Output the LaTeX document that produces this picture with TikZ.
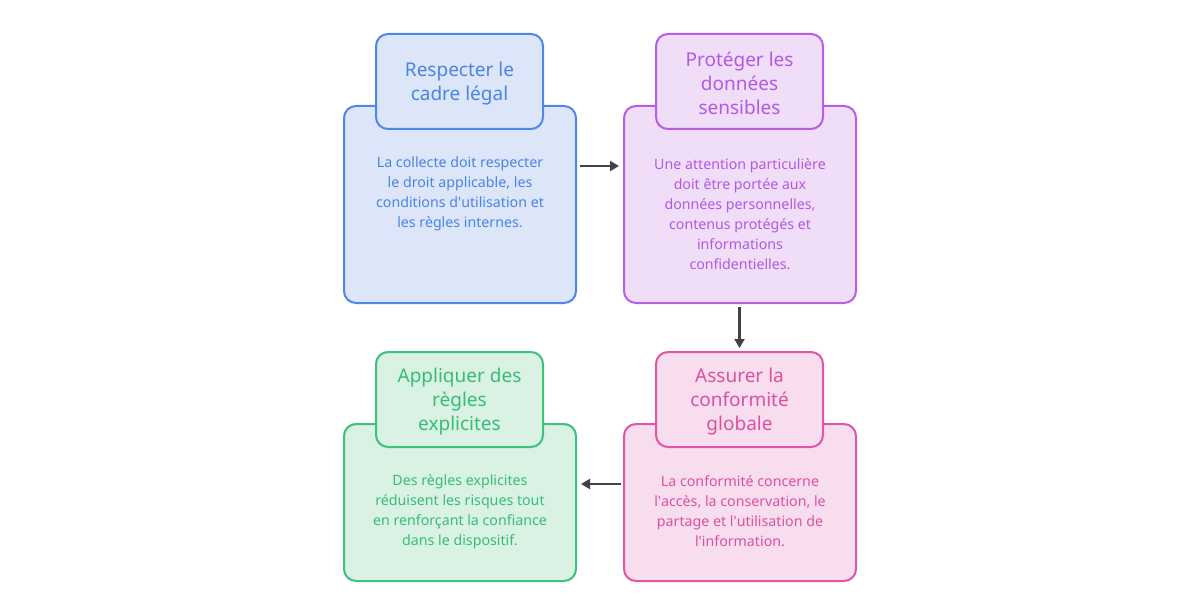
\documentclass[tikz,border=0pt]{standalone}
\usepackage{fontspec}
\setmainfont{Noto Sans}
\usetikzlibrary{arrows.meta}
\definecolor{bS}{HTML}{4F87E6}\definecolor{bF}{HTML}{DCE6F8}\definecolor{bT}{HTML}{4A84E4}
\definecolor{pS}{HTML}{B75DE6}\definecolor{pF}{HTML}{F0DDF8}\definecolor{pT}{HTML}{B458E4}
\definecolor{gS}{HTML}{3DC27C}\definecolor{gF}{HTML}{D9F2E4}\definecolor{gT}{HTML}{36BE76}
\definecolor{kS}{HTML}{DF56A6}\definecolor{kF}{HTML}{F8DDEE}\definecolor{kT}{HTML}{DC50A2}
\definecolor{arrC}{HTML}{424242}
\newcommand{\ap}{\textquotesingle}
\tikzset{
  bigbox/.style={draw=#1S, fill=#1F, line width=2pt, rounded corners=12pt, minimum width=232pt, inner sep=0pt},
  titlebox/.style={draw=#1S, fill=#1F, line width=2pt, rounded corners=12pt, minimum width=167pt, minimum height=95pt, inner sep=0pt},
  titletext/.style={text=#1T, font=\fontsize{19}{24}\selectfont, align=center, inner sep=0pt},
  bodytext/.style={text=#1T, font=\fontsize{14.2}{20}\selectfont, align=center, inner sep=0pt},
  arr/.style={draw=arrC, line width=2.4pt, -{Triangle[length=9pt,width=10pt]}}
}
\begin{document}
\begin{tikzpicture}[x=1pt,y=-1pt]
\useasboundingbox (0,0) rectangle (1200,615);
% top-left
\node[bigbox=b, minimum height=197pt] (big1) at (460,204.5) {};
\node[titlebox=b] (title1) at (459.5,81.5) {};
\node[titletext=b] (t1) at (459.5,84) {Respecter le\\cadre légal};
\node[bodytext=b] (body1) at (460,194) {La collecte doit respecter\\le droit applicable, les\\conditions d\ap utilisation et\\les règles internes.};
% top-right
\node[bigbox=p, minimum height=197pt] (big2) at (740,204.5) {};
\node[titlebox=p] (title2) at (739.5,81.5) {};
\node[titletext=p] (t2) at (739.5,83) {Protéger les\\données\\sensibles};
\node[bodytext=p] (body2) at (740,214) {Une attention particulière\\doit être portée aux\\données personnelles,\\contenus protégés et\\informations\\confidentielles.};
% bottom-left
\node[bigbox=g, minimum height=157pt] (big3) at (460,502.5) {};
\node[titlebox=g] (title3) at (459.5,399.5) {};
\node[titletext=g] (t3) at (459.5,401.5) {Appliquer des\\règles\\explicites};
\node[bodytext=g] (body3) at (460,511.5) {Des règles explicites\\réduisent les risques tout\\en renforçant la confiance\\dans le dispositif.};
% bottom-right
\node[bigbox=k, minimum height=157pt] (big4) at (740,502.5) {};
\node[titlebox=k] (title4) at (739.5,399.5) {};
\node[titletext=k] (t4) at (739.5,401.5) {Assurer la\\conformité\\globale};
\node[bodytext=k] (body4) at (740,511.5) {La conformité concerne\\l\ap accès, la conservation, le\\partage et l\ap utilisation de\\l\ap information.};
% arrows
\draw[arr, shorten <=3pt, shorten >=4pt] ([yshift=38.5pt]big1.east) -- ([yshift=38.5pt]big2.west);
\draw[arr, shorten <=3pt, shorten >=3pt] (title4.north |- big2.south) -- (title4.north);
\draw[arr, shorten <=2pt, shorten >=4pt] ([yshift=18.5pt]big4.west) -- ([yshift=18.5pt]big3.east);
\end{tikzpicture}
\end{document}
